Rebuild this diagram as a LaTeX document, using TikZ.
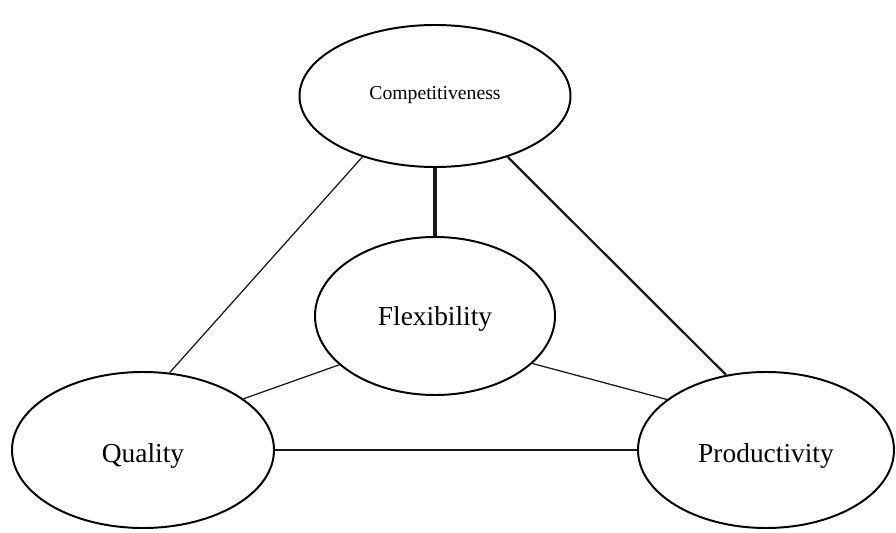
\documentclass[tikz,border=0pt]{standalone}
\usepackage{fontspec}
\setmainfont{Liberation Serif}
\usetikzlibrary{shapes.geometric}

\begin{document}
\begin{tikzpicture}
		\tikzstyle{oval}=[ellipse,draw=black,line width=1.4pt,fill=white,inner sep=0pt,font=\fontsize{19.5}{22}\selectfont]
		\tikzstyle{edge}=[draw=black!90,line width=0.9pt]

		\useasboundingbox (0,0) rectangle (22.4,13.3);

		 \node [oval,minimum width=6.775cm,minimum height=3.55cm,font=\fontsize{14}{16}\selectfont] (comp) at (10.875,10.9) {\raisebox{1pt}[\height][\depth]{Competitiveness}};
		 \node [oval,minimum width=6cm,minimum height=3.95cm] (flex) at (10.875,5.4) {\raisebox{-2pt}[\height][\depth]{Flexibility}};
		 \node [oval,minimum width=6.55cm,minimum height=3.9cm] (qual) at (3.575,2.05) {\raisebox{-4pt}[\height][\depth]{Quality}};
		 \node [oval,minimum width=6.4cm,minimum height=3.9cm] (prod) at (19.15,2.05) {\raisebox{-4pt}[\height][\depth]{Productivity}};

		 \path[edge,line width=3.2pt] (comp.south) -- (flex.north);
		 \path[edge] (comp.220) -- (qual.71);
		 \path[edge,line width=1.6pt] (comp.320) -- (prod.118);
		 \path[edge] (flex.207) -- (qual.27);
		 \path[edge] (flex.334) -- (prod.153);
		 \path[edge] (qual.east) -- (prod.west);

	\end{tikzpicture}
\end{document}
